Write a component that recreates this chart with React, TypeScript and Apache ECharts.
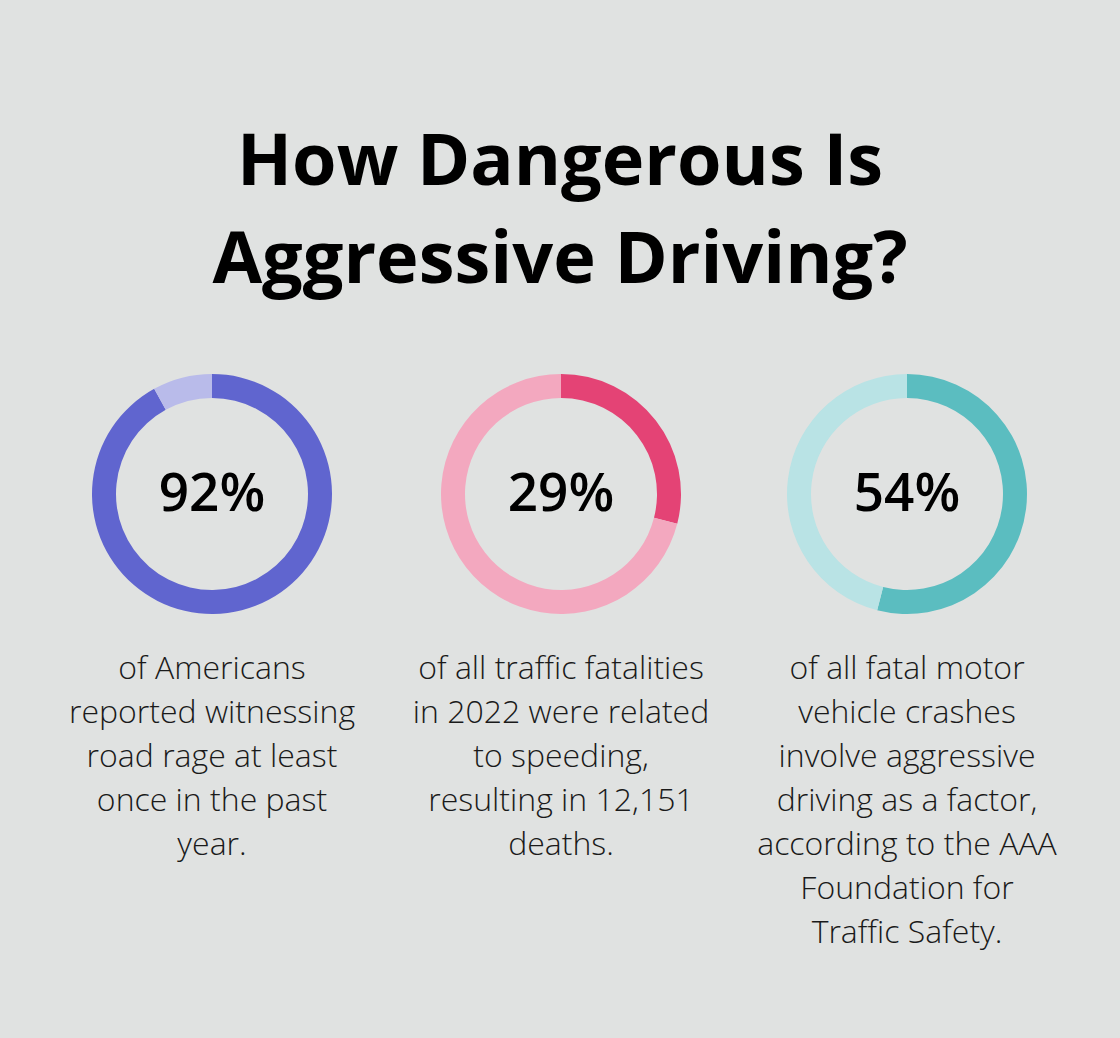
import React, { useEffect, useRef } from "react";
import * as echarts from "echarts";

const titleLines = ["How Dangerous Is", "Aggressive Driving?"];
const percentages = [92, 29, 54];
const percentLabels = ["92%", "29%", "54%"];
const descriptions = [
  ["of Americans", "reported witnessing", "road rage at least", "once in the past", "year."],
  ["of all traffic fatalities", "in 2022 were related", "to speeding,", "resulting in 12,151", "deaths."],
  ["of all fatal motor", "vehicle crashes", "involve aggressive", "driving as a factor,", "according to the AAA", "Foundation for", "Traffic Safety."],
];
const mainColors = ["#6065cf", "#e44375", "#5bbdc0"];
const lightColors = ["#b9bbea", "#f3a8bf", "#b9e3e5"];
const centersX = [212, 561, 907];

export default function App() {
  const ref = useRef<HTMLDivElement>(null);
  useEffect(() => {
    document.body.style.margin = "0";
    const chart = echarts.init(ref.current!, null, { renderer: "svg" });
    const centerY = 494;
    const series: any[] = percentages.map((p, i) => ({
      type: "pie",
      radius: [96, 120],
      center: [centersX[i], centerY],
      startAngle: 90,
      clockwise: true,
      silent: true,
      label: { show: false },
      labelLine: { show: false },
      itemStyle: { borderWidth: 0 },
      data: [
        { value: p, name: "value", itemStyle: { color: mainColors[i] } },
        { value: 100 - p, name: "rest", itemStyle: { color: lightColors[i] } },
      ],
    }));
    const graphic: any[] = [];
    titleLines.forEach((t, i) => {
      graphic.push({
        type: "text",
        x: 560,
        y: 157 + i * 98,
        style: {
          text: t,
          fill: "#000",
          font: "bold 72px 'Open Sans'",
          textAlign: "center",
          textVerticalAlign: "middle",
        },
      });
    });
    percentLabels.forEach((t, i) => {
      graphic.push({
        type: "text",
        x: centersX[i],
        y: centerY - 4,
        style: {
          text: t,
          fill: "#000",
          font: "600 53px 'Open Sans'",
          textAlign: "center",
          textVerticalAlign: "middle",
        },
      });
    });
    descriptions.forEach((lines, i) => {
      lines.forEach((line, j) => {
        graphic.push({
          type: "text",
          x: centersX[i],
          y: 666 + j * 44,
          style: {
            text: line,
            fill: "#1a1a1a",
            font: "300 32px 'Open Sans'",
            textAlign: "center",
            textVerticalAlign: "middle",
          },
        });
      });
    });
    chart.setOption({
      animation: false,
      backgroundColor: "#e0e2e1",
      series,
      graphic,
    });
    return () => chart.dispose();
  }, []);
  return <div ref={ref} style={{ width: 1120, height: 1038 }} />;
}
